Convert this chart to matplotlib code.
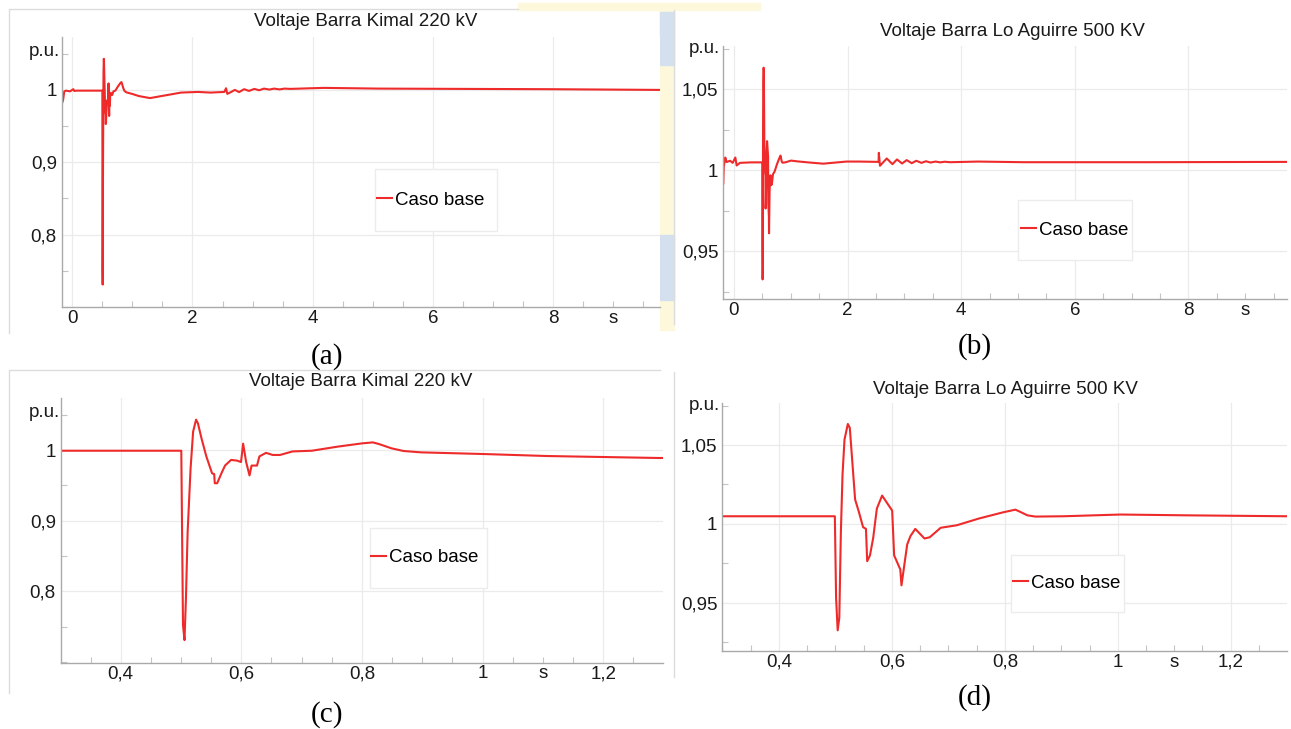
import matplotlib
matplotlib.use('Agg')
import matplotlib.pyplot as plt
from matplotlib.patches import Rectangle
from matplotlib.lines import Line2D
from matplotlib.ticker import FuncFormatter, AutoMinorLocator

plt.rcParams['font.family'] = ['Liberation Sans', 'DejaVu Sans']

W, H = 1291, 729

# Voltaje barra Kimal 220 kV (s, p.u.)
t_kimal = [-0.176, -0.170, -0.153, -0.133, -0.105, -0.038, 0.018, 0.034, 0.073,
           0.300, 0.5005, 0.5033, 0.5058, 0.5082, 0.511, 0.5159, 0.5201, 0.525,
           0.528, 0.534, 0.542, 0.5515, 0.555, 0.556, 0.560, 0.567, 0.573, 0.583,
           0.593, 0.5995, 0.603, 0.608, 0.6136, 0.617, 0.626, 0.630, 0.641, 0.652,
           0.664, 0.685, 0.717, 0.759, 0.800, 0.818, 0.828, 0.849, 0.869, 0.898,
           1.003, 1.107, 1.294, 1.81, 2.09, 2.30, 2.53, 2.559, 2.58, 2.64, 2.705,
           2.776, 2.86, 2.94, 3.03, 3.11, 3.19, 3.28, 3.36, 3.45, 3.53, 3.63,
           3.98, 4.19, 5.10, 6.5, 7.9, 9.78]
v_kimal = [1.004, 0.982, 0.986, 0.998, 0.999, 0.998, 1.001, 0.9985, 0.999,
           0.999, 0.999, 0.7525, 0.731, 0.790, 0.884, 0.974, 1.026, 1.043,
           1.038, 1.0165, 0.991, 0.967, 0.966, 0.953, 0.953, 0.967, 0.978, 0.986,
           0.985, 0.983, 1.009, 0.983, 0.964, 0.978, 0.978, 0.991, 0.996, 0.993,
           0.993, 0.998, 0.999, 1.0047, 1.0094, 1.0108, 1.0085, 1.0024, 0.9986, 0.9967,
           0.9943, 0.9915, 0.9887, 0.9963, 0.9972, 0.9963, 0.9972, 1.0023, 0.9945, 0.997, 1.0,
           0.997, 1.001, 0.9986, 1.0014, 0.9995, 1.0018, 1.0005, 1.0018, 1.0007, 1.0018, 1.0014,
           1.0023, 1.0028, 1.0018, 1.0014, 1.001, 1.000]

# Voltaje barra Lo Aguirre 500 kV (s, p.u.)
t_agui = [-0.188, -0.180, -0.153, -0.130, -0.070, -0.023, 0.024, 0.047, 0.106,
          0.300, 0.499, 0.5012, 0.504, 0.5069, 0.5097, 0.5126, 0.5161, 0.522,
          0.5255, 0.5349, 0.5412, 0.549, 0.5541, 0.5563, 0.5612, 0.5669, 0.5734,
          0.5827, 0.6005, 0.604, 0.6149, 0.617, 0.6271, 0.6328, 0.6414, 0.6577,
          0.6671, 0.6864, 0.715, 0.7544, 0.797, 0.8188, 0.829, 0.840, 0.854, 0.904,
          1.0046, 1.12, 1.30, 1.57, 1.98, 2.20, 2.546, 2.55, 2.57, 2.69, 2.79,
          2.87, 2.96, 3.04, 3.13, 3.21, 3.30, 3.38, 3.46, 3.55, 3.63, 3.71, 3.80,
          4.3, 5.11, 7.24, 9.80]
v_agui = [0.9918, 1.002, 1.0078, 1.005, 1.0058, 1.0045, 1.0078, 1.0029, 1.0045,
          1.0048, 1.0048, 0.953, 0.9325, 0.9405, 0.9953, 1.0312, 1.0534, 1.0633,
          1.0608, 1.0154, 1.0080, 0.9979, 0.9968, 0.9763, 0.980, 0.9911, 1.0097,
          1.0179, 1.0084, 0.980, 0.9711, 0.961, 0.9869, 0.9922, 0.9968, 0.9907,
          0.9915, 0.9975, 0.9991, 1.0034, 1.0073, 1.009, 1.0073, 1.0054, 1.0046, 1.0048,
          1.0059, 1.0054, 1.0048, 1.004, 1.0053, 1.0053, 1.0051, 1.0107, 1.0027, 1.0072, 1.0037,
          1.0066, 1.0041, 1.0062, 1.0043, 1.0058, 1.0045, 1.0055, 1.0047, 1.0053, 1.0048, 1.0052, 1.0049,
          1.0053, 1.0049, 1.0049, 1.0051]

titles = ['Voltaje Barra Kimal 220 kV', 'Voltaje Barra Lo Aguirre 500 KV',
          'Voltaje Barra Kimal 220 kV', 'Voltaje Barra Lo Aguirre 500 KV']
captions = ['(a)', '(b)', '(c)', '(d)']
legend_label = 'Caso base'

xticks_long = [0, 2, 4, 6, 8]
xticks_zoom = [0.4, 0.6, 0.8, 1.0, 1.2]
yticks_kimal = [0.8, 0.9, 1.0]
yticks_agui = [0.95, 1.0, 1.05]

RED = '#ee2a2a'
FS = 13.5


def fx(x):
    return x / W


def fy(y):
    return 1 - y / H


def rect(l, t, r, b):
    return [l / W, 1 - b / H, (r - l) / W, (b - t) / H]


comma = FuncFormatter(lambda v, p: f'{v:g}'.replace('.', ','))

fig = plt.figure(figsize=(W / 100, H / 100), dpi=100)

# faint background of the source page (watermark remains)
fig.patches.append(Rectangle((fx(518), fy(10)), fx(760) - fx(518), fy(3) - fy(10),
                             transform=fig.transFigure, color='#fdf8dc', zorder=-5))
fig.patches.append(Rectangle((fx(660), fy(330)), fx(674) - fx(660), fy(10) - fy(330),
                             transform=fig.transFigure, color='#fdf8dc', zorder=-5))
fig.patches.append(Rectangle((fx(660), fy(65)), fx(674) - fx(660), fy(12) - fy(65),
                             transform=fig.transFigure, color='#d4e0ee', zorder=-4))
fig.patches.append(Rectangle((fx(660), fy(300)), fx(674) - fx(660), fy(235) - fy(300),
                             transform=fig.transFigure, color='#d4e0ee', zorder=-4))

# panel frames (left / top edges of the screenshots)
for xs, ys in [([9, 9, 518], [333, 9, 9]), ([9, 9, 660], [693, 370, 370]),
               ([674, 674], [324, 10]), ([674, 674], [677, 372])]:
    fig.add_artist(Line2D([fx(x) for x in xs], [fy(y) for y in ys],
                          transform=fig.transFigure, color='#dcdcdc', lw=1))

panels = [
    dict(box=rect(61.7, 37.3, 660, 307), t=t_kimal, v=v_kimal,
         xlim=(-0.176, 9.78), ylim=(0.70, 1.0727), xt=xticks_long, yt=yticks_kimal,
         s_at=9, title=(366, 21.7), pu=(60, 51.7),
         leg=(374.6, 169, 496.6, 230.7), hand=(377, 200), cap=(327, 356.7)),
    dict(box=rect(723.3, 46, 1287, 299.3), t=t_agui, v=v_agui,
         xlim=(-0.188, 9.736), ylim=(0.9202, 1.0767), xt=xticks_long, yt=yticks_agui,
         s_at=9, title=(1012, 31.7), pu=(720, 48.3),
         leg=(1018, 200, 1132, 260), hand=(1021, 230), cap=(975, 346.7)),
    dict(box=rect(60.7, 398.3, 663, 662.7), t=t_kimal, v=v_kimal,
         xlim=(0.3006, 1.299), ylim=(0.699, 1.0732), xt=xticks_zoom, yt=yticks_kimal,
         s_at=1.1, title=(361, 382), pu=(60, 412.7),
         leg=(369.5, 527.7, 487.4, 587.7), hand=(371, 557.7), cap=(327, 715)),
    dict(box=rect(722.3, 403.3, 1287, 651), t=t_agui, v=v_agui,
         xlim=(0.2997, 1.2997), ylim=(0.9194, 1.0764), xt=xticks_zoom, yt=yticks_agui,
         s_at=1.1, title=(1005, 389), pu=(720.5, 405),
         leg=(1011, 555, 1123.6, 612.3), hand=(1013, 583.3), cap=(975, 698)),
]

for i, p in enumerate(panels):
    ax = fig.add_axes(p['box'])
    line, = ax.plot(p['t'], p['v'], color=RED, lw=1.5, solid_joinstyle='round')
    ax.set_xlim(*p['xlim'])
    ax.set_ylim(*p['ylim'])
    ax.set_xticks(p['xt'])
    ax.set_yticks(p['yt'])
    ax.xaxis.set_major_formatter(comma)
    ax.yaxis.set_major_formatter(comma)
    ax.xaxis.set_minor_locator(AutoMinorLocator(4))
    ax.yaxis.set_minor_locator(AutoMinorLocator(2))
    ax.grid(True, which='major', color='#ebebeb', lw=0.9)
    ax.set_axisbelow(True)
    for side in ['top', 'right']:
        ax.spines[side].set_visible(False)
    for side in ['left', 'bottom']:
        ax.spines[side].set_color('#a9a9a9')
        ax.spines[side].set_linewidth(1)
    ax.tick_params(which='major', length=0, labelsize=FS, labelcolor='#1a1a1a')
    ax.tick_params(axis='x', which='major', pad=2)
    ax.tick_params(axis='y', which='major', pad=3.5)
    ax.tick_params(which='minor', direction='in', length=4, color='#c4c4c4', width=0.8)

    ax.annotate('s', xy=(p['s_at'], 0), xycoords=('data', 'axes fraction'),
                xytext=(0, -2), textcoords='offset points', ha='center', va='top',
                fontsize=FS, color='#1a1a1a')

    # legend with its own light frame
    l, t, r, b = p['leg']
    ax.add_patch(Rectangle((fx(l), fy(b)), fx(r) - fx(l), fy(t) - fy(b),
                           transform=fig.transFigure, facecolor='white',
                           edgecolor='#ececec', lw=1, zorder=4))
    ax.legend([line], [legend_label], loc='center left',
              bbox_to_anchor=(fx(p['hand'][0]), fy(p['hand'][1])),
              bbox_transform=fig.transFigure, frameon=False, borderpad=0,
              borderaxespad=0, handlelength=0.8, handletextpad=0.15, fontsize=FS)

    fig.text(fx(p['title'][0]), fy(p['title'][1]), titles[i], ha='center', va='center',
             fontsize=FS, color='#1a1a1a')
    fig.text(fx(p['pu'][0]), fy(p['pu'][1]), 'p.u.', ha='right', va='center',
             fontsize=FS, color='#1a1a1a')
    fig.text(fx(p['cap'][0]), fy(p['cap'][1]), captions[i], ha='center', va='center',
             fontsize=21, family='Liberation Serif', color='black')

fig.savefig('out.png', dpi=100)
